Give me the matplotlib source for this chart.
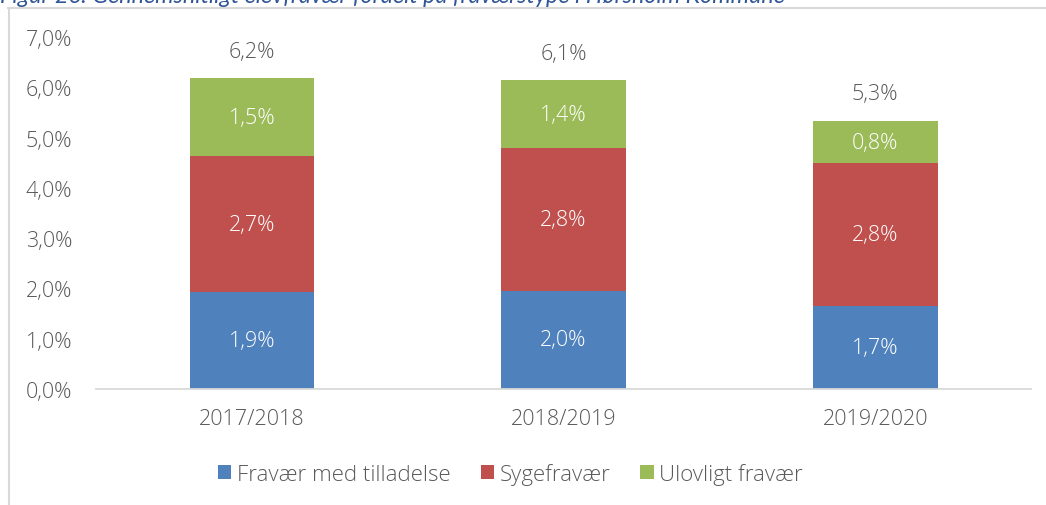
import numpy as np
import matplotlib.pyplot as plt
from matplotlib.lines import Line2D

# Data (percent)
years = ['2017/2018', '2018/2019', '2019/2020']
med_tilladelse = [1.93, 1.95, 1.65]
sygefravaer = [2.70, 2.84, 2.84]
ulovligt = [1.55, 1.35, 0.84]
labels_med = ['1,9%', '2,0%', '1,7%']
labels_syge = ['2,7%', '2,8%', '2,8%']
labels_ulov = ['1,5%', '1,4%', '0,8%']
labels_total = ['6,2%', '6,1%', '5,3%']
series_names = ['Fravær med tilladelse', 'Sygefravær', 'Ulovligt fravær']

blue = '#4F81BD'
red = '#C0504D'
green = '#9BBB59'
grey = '#595959'

plt.rcParams['font.family'] = ['Open Sans', 'DejaVu Sans']
plt.rcParams['font.weight'] = 'light'

fig = plt.figure(figsize=(10.46, 5.06), dpi=100)
ax = fig.add_axes([96/1046, 116/506, 935/1046, 352/506])

x = np.arange(len(years))
w = 0.4
b1 = ax.bar(x, med_tilladelse, w, color=blue, label=series_names[0])
b2 = ax.bar(x, sygefravaer, w, bottom=med_tilladelse, color=red, label=series_names[1])
bottom3 = np.array(med_tilladelse) + np.array(sygefravaer)
b3 = ax.bar(x, ulovligt, w, bottom=bottom3, color=green, label=series_names[2])

fs = 15.5
ax.bar_label(b1, labels=labels_med, label_type='center', color='white', fontsize=fs)
ax.bar_label(b2, labels=labels_syge, label_type='center', color='white', fontsize=fs)
ax.bar_label(b3, labels=labels_ulov, label_type='center', color='white', fontsize=fs)
ax.bar_label(b3, labels=labels_total, padding=12, color=grey, fontsize=fs)

ax.set_xlim(-0.5, 2.5)
ax.set_ylim(0, 7)
ax.set_yticks(np.arange(0, 8))
ax.set_yticklabels([f'{v},0%' for v in range(8)])
ax.set_xticks(x)
ax.set_xticklabels(years)
ax.tick_params(axis='y', length=0, pad=17, labelsize=fs, labelcolor=grey)
ax.tick_params(axis='x', length=0, pad=14, labelsize=fs, labelcolor=grey)
for s in ['left', 'right', 'top']:
    ax.spines[s].set_visible(False)
ax.spines['bottom'].set_color('#D9D9D9')
ax.spines['bottom'].set_linewidth(1.3)

leg = fig.legend(handles=[b1, b2, b3], loc='center', bbox_to_anchor=(0.488, 31/506),
                 ncol=3, frameon=False, fontsize=16, handlelength=0.6, handleheight=0.6,
                 columnspacing=1.35, handletextpad=0.25)
for t in leg.get_texts():
    t.set_color(grey)

# chart frame (cut off at right / bottom)
fig.add_artist(Line2D([9/1046, 9/1046], [0, 1 - 9/506], transform=fig.transFigure,
                      color='#D9D9D9', lw=1.5))
fig.add_artist(Line2D([8/1046, 1], [1 - 9/506, 1 - 9/506], transform=fig.transFigure,
                      color='#D9D9D9', lw=1.5))

# title, mostly cut off at top (as in the source screenshot)
fig.text(0, 1 - 3/506, 'Figur 26: Gennemsnitligt elevfravær fordelt på fraværstype i Hørsholm Kommune',
         ha='left', va='baseline', color='#2F5597', fontsize=16.8, style='italic',
         family=['Lato', 'DejaVu Sans'], weight='normal')

fig.savefig('out.png', dpi=100)
